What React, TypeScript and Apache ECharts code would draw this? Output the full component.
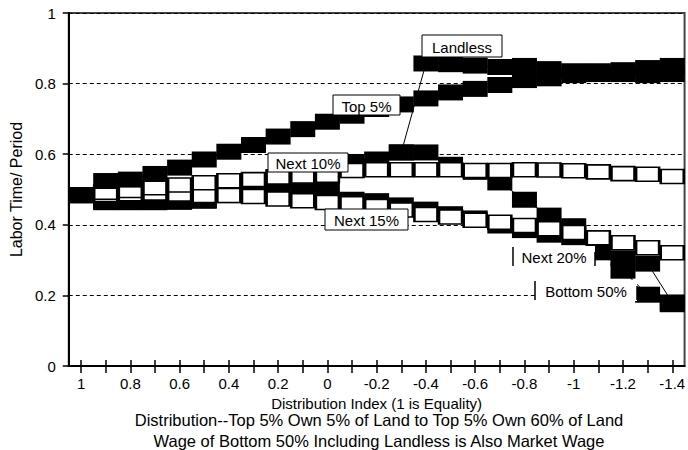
import { useEffect, useRef } from 'react';
import * as echarts from 'echarts';

const categories = ['1', '0.9', '0.8', '0.7', '0.6', '0.5', '0.4', '0.3', '0.2', '0.1', '0', '-0.1', '-0.2', '-0.3', '-0.4', '-0.5', '-0.6', '-0.7', '-0.8', '-0.9', '-1', '-1.1', '-1.2', '-1.3', '-1.4'];

const top5 = [0.484, 0.524, 0.528, 0.544, 0.562, 0.585, 0.607, 0.626, 0.65, 0.671, 0.692, 0.709, 0.728, 0.741, 0.758, 0.775, 0.785, 0.796, 0.81, 0.815, 0.824, 0.827, 0.827, 0.824, 0.827];
const landless = [0.484, 0.466, 0.466, 0.466, 0.467, 0.47, 0.5, 0.51, 0.52, 0.53, 0.54, 0.555, 0.565, 0.605, 0.857, 0.855, 0.851, 0.847, 0.85, 0.841, 0.835, 0.835, 0.838, 0.844, 0.85];
const next10 = [0.484, 0.492, 0.497, 0.505, 0.513, 0.519, 0.525, 0.528, 0.535, 0.538, 0.54, 0.554, 0.556, 0.556, 0.556, 0.556, 0.554, 0.554, 0.556, 0.555, 0.553, 0.55, 0.545, 0.543, 0.537];
const next15 = [0.484, 0.486, 0.488, 0.49, 0.487, 0.483, 0.483, 0.48, 0.473, 0.468, 0.463, 0.46, 0.452, 0.442, 0.429, 0.422, 0.413, 0.407, 0.398, 0.389, 0.378, 0.363, 0.349, 0.335, 0.321];
const next20 = [0.484, 0.47, 0.472, 0.476, 0.48, 0.49, 0.515, 0.52, 0.535, 0.54, 0.54, 0.578, 0.585, 0.605, 0.605, 0.57, 0.55, 0.52, 0.471, 0.426, 0.396, 0.322, 0.305, 0.29, 0.18];
const bottom50 = [0.484, 0.464, 0.464, 0.464, 0.465, 0.468, 0.484, 0.49, 0.506, 0.506, 0.502, 0.471, 0.467, 0.455, 0.443, 0.43, 0.418, 0.398, 0.385, 0.372, 0.365, 0.33, 0.27, 0.202, 0.175];

const yTicks = [0, 0.2, 0.4, 0.6, 0.8, 1];

const FONT = "'Liberation Sans', Arial, sans-serif";

export default function App() {
  const ref = useRef<HTMLDivElement>(null);
  useEffect(() => {
    const chart = echarts.init(ref.current!, null, { renderer: 'svg' });
    const mk = (name: string, data: number[], fill: string) => ({
      name,
      type: 'line',
      data,
      symbol: 'rect',
      symbolSize: fill === '#000' ? [25, 16] : [23, 14],
      showSymbol: true,
      showAllSymbol: true,
      lineStyle: { color: '#000', width: 1 },
      itemStyle: { color: fill, borderColor: '#000', borderWidth: fill === '#000' ? 0 : 2 },
      emphasis: { disabled: true },
      silent: true,
      clip: false,
      z: 2,
    });
    const box = (x: number, y: number, w: number, h: number, text: string, full: boolean) => {
      const els: any[] = [
        { type: 'rect', z: 100, shape: { x, y, width: w, height: h }, style: { fill: '#fff', stroke: full ? '#000' : null, lineWidth: 1 } },
        { type: 'text', z: 101, x: x + w / 2, y: y + h / 2 + 1, style: { text, font: `15px ${FONT}`, fill: '#000', align: 'center', verticalAlign: 'middle' } },
      ];
      if (!full) {
        els.push({ type: 'line', z: 101, shape: { x1: x, y1: y + 1, x2: x, y2: y + h - 1 }, style: { stroke: '#000', lineWidth: 1.5 } });
        els.push({ type: 'line', z: 101, shape: { x1: x + w, y1: y + 6, x2: x + w, y2: y + h - 1 }, style: { stroke: '#000', lineWidth: 1.5 } });
      }
      return els;
    };
    chart.setOption({
      animation: false,
      grid: { left: 67, top: 13, bottom: 84, right: -3.5, show: true, borderColor: '#444', borderWidth: 2, backgroundColor: 'transparent' },
      xAxis: [
        {
          type: 'category',
          data: categories,
          boundaryGap: true,
          name: 'Distribution Index (1 is Equality)',
          nameLocation: 'middle',
          nameGap: 26,
          nameTextStyle: { fontFamily: FONT, fontSize: 15, color: '#000' },
          axisLine: { lineStyle: { color: '#000', width: 2 } },
          axisTick: { show: true, alignWithLabel: true, interval: 0, length: 7, lineStyle: { color: '#000', width: 1.5 } },
          axisLabel: { interval: 1, margin: 10, fontFamily: FONT, fontSize: 15, color: '#000' },
          splitLine: { show: false },
        },
        {
          type: 'category',
          data: categories,
          position: 'bottom',
          boundaryGap: true,
          axisLine: { show: false },
          axisTick: { show: true, inside: true, alignWithLabel: true, interval: 0, length: 6, lineStyle: { color: '#000', width: 1.5 } },
          axisLabel: { show: false },
          splitLine: { show: false },
        },
      ],
      yAxis: {
        type: 'value',
        min: yTicks[0],
        max: yTicks[yTicks.length - 1],
        interval: 0.2,
        name: 'Labor Time/ Period',
        nameLocation: 'middle',
        nameGap: 42,
        nameTextStyle: { fontFamily: FONT, fontSize: 16, color: '#000' },
        axisLine: { show: true, lineStyle: { color: '#000', width: 2 } },
        axisTick: { show: true, length: 6, lineStyle: { color: '#000', width: 1.5 } },
        axisLabel: { margin: 13, fontFamily: FONT, fontSize: 15, color: '#000' },
        splitLine: { show: true, lineStyle: { color: '#000', width: 1, type: [4, 3] } },
      },
      series: [
        mk('Bottom 50%', bottom50, '#000'),
        mk('Next 20%', next20, '#000'),
        mk('Landless', landless, '#000'),
        mk('Next 15%', next15, '#fff'),
        mk('Next 10%', next10, '#fff'),
        mk('Top 5%', top5, '#000'),
      ],
      graphic: [
        ...box(422, 35, 80, 22, 'Landless', true),
        ...box(333, 95, 67, 20, 'Top 5%', true),
        ...box(268, 153, 80, 19, 'Next 10%', true),
        ...box(325, 209, 83, 21, 'Next 15%', true),
        ...box(513, 246, 82, 21, 'Next 20%', false),
        ...box(535, 280, 102, 21, 'Bottom 50%', false),
        { type: 'text', z: 100, x: 379, y: 420, style: { text: 'Distribution--Top 5% Own 5% of Land to Top 5% Own 60% of Land', font: `16.5px ${FONT}`, fill: '#000', align: 'center', verticalAlign: 'middle' } },
        { type: 'text', z: 100, x: 379, y: 441, style: { text: 'Wage of Bottom 50% Including Landless is Also Market Wage', font: `16.5px ${FONT}`, fill: '#000', align: 'center', verticalAlign: 'middle' } },
      ],
    });
    return () => chart.dispose();
  }, []);
  return <div ref={ref} style={{ position: 'fixed', left: 0, top: 0, width: 688, height: 450, background: '#fff' }} />;
}
